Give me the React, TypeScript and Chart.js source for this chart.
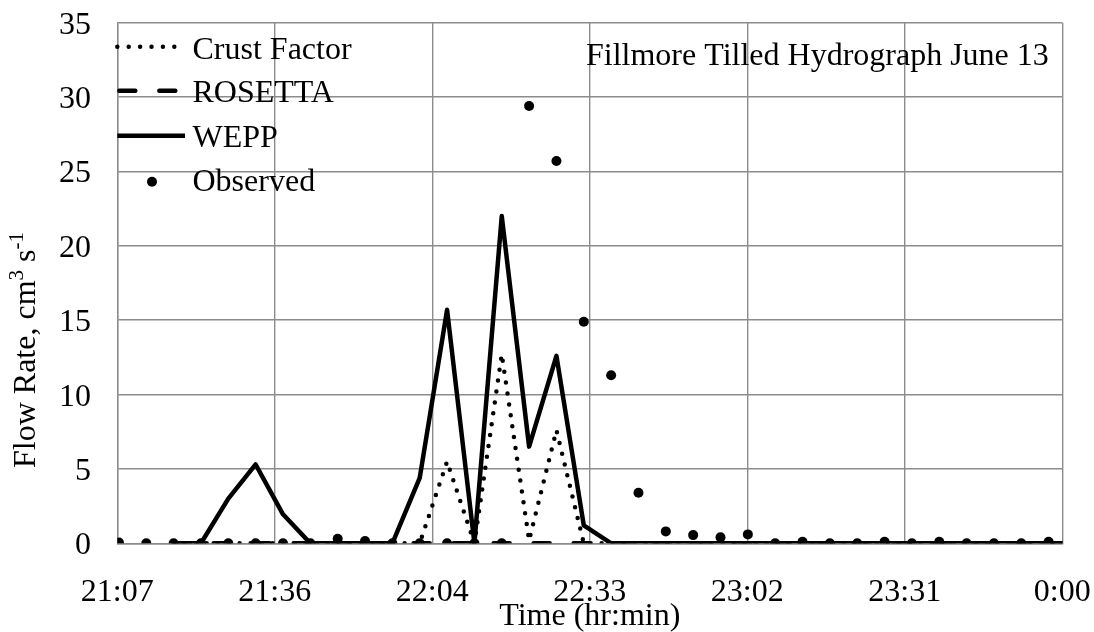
import React, { useEffect, useRef } from "react";
import { Chart, registerables } from "chart.js";

Chart.register(...registerables);

const FONT = "'Liberation Serif', 'Times New Roman', serif";
const GRID = "#8c8c8c";

// Sample times (hh:mm:ss); the last one runs past midnight
const sampleTimes = [
  "21:07:30", "21:12:30", "21:17:30", "21:22:30", "21:27:30", "21:32:30",
  "21:37:30", "21:42:30", "21:47:30", "21:52:30", "21:57:30", "22:02:30",
  "22:07:30", "22:12:30", "22:17:30", "22:22:30", "22:27:30", "22:32:30",
  "22:37:30", "22:42:30", "22:47:30", "22:52:30", "22:57:30", "23:02:30",
  "23:07:30", "23:12:30", "23:17:30", "23:22:30", "23:27:30", "23:32:30",
  "23:37:30", "23:42:30", "23:47:30", "23:52:30", "23:57:30", "00:02:30",
];

// Flow rate, cm3 s-1
const crustFactor = [
  null, null, 0, 0, 0, 0, 0, 0, 0, 0, 0, 0,
  5.5, 0, 12.7, 0.2, 7.6, 0, 0, 0, 0, 0, 0, 0,
  0, 0, 0, 0, 0, 0, 0, 0, 0, 0, 0, 0,
];
const rosetta = [
  null, null, 0, 0, 0, 0, 0, 0, 0, 0, 0, 0,
  0, 0, 0, 0, 0, 0, 0, 0, 0, 0, 0, 0,
  0, 0, 0, 0, 0, 0, 0, 0, 0, 0, 0, 0,
];
const wepp = [
  null, null, 0, 0, 3.0, 5.3, 1.95, 0, 0, 0, 0, 4.4,
  15.7, 0, 22.0, 6.5, 12.6, 1.2, 0, 0, 0, 0, 0, 0,
  0, 0, 0, 0, 0, 0, 0, 0, 0, 0, 0, 0,
];
const observed = [
  0.05, 0, 0, 0, 0, 0, 0, 0, 0.3, 0.15, 0, 0,
  0, 0, 0, 29.4, 25.7, 14.9, 11.3, 3.4, 0.8, 0.55, 0.4, 0.6,
  0, 0.1, 0, 0, 0.1, 0, 0.1, 0, 0, 0, 0.1, null,
];

const xTickLabels = ["21:07", "21:36", "22:04", "22:33", "23:02", "23:31", "0:00"];
const xTickMinutes = [1267.2, 1296, 1324.8, 1353.6, 1382.4, 1411.2, 1440];
const yTickValues = [0, 5, 10, 15, 20, 25, 30, 35];

const chartTitle = "Fillmore Tilled Hydrograph June 13";
const xTitle = "Time (hr:min)";

const LINE_W = 4.5;
const DOT_R = 5;

function toMinutes(t: string): number {
  const [h, m, s] = t.split(":").map(Number);
  const hh = h < 12 ? h + 24 : h;
  return hh * 60 + m + (s || 0) / 60;
}

function series(values: (number | null)[]) {
  return sampleTimes.map((t, i) => ({ x: toMinutes(t), y: values[i] }));
}

const textPlugin = {
  id: "hydroText",
  afterDraw(chart: any) {
    const { ctx, chartArea } = chart;
    const xs = chart.scales.x;
    const ys = chart.scales.y;
    ctx.save();
    ctx.fillStyle = "#000";
    ctx.font = `32px ${FONT}`;
    ctx.textBaseline = "alphabetic";

    // x tick labels
    ctx.textAlign = "center";
    xTickMinutes.forEach((v, i) => {
      ctx.fillText(xTickLabels[i], xs.getPixelForValue(v), chartArea.bottom + 57.7);
    });
    // y tick labels
    ctx.textAlign = "right";
    yTickValues.forEach((v) => {
      ctx.fillText(String(v), chartArea.left - 26.3, ys.getPixelForValue(v) + 11);
    });

    // x axis title
    ctx.textAlign = "center";
    ctx.fillText(xTitle, (chartArea.left + chartArea.right) / 2, 625);

    // chart title inside the plot
    ctx.textAlign = "left";
    ctx.fillText(chartTitle, 586, 65);

    // y axis title with superscripts
    ctx.save();
    ctx.translate(35, 468);
    ctx.rotate(-Math.PI / 2);
    const parts: [string, boolean][] = [
      ["Flow Rate, cm", false],
      ["3", true],
      [" s", false],
      ["-1", true],
    ];
    let px = 0;
    for (const [t, sup] of parts) {
      ctx.font = sup ? `21px ${FONT}` : `32px ${FONT}`;
      ctx.fillText(t, px, sup ? -12 : 0);
      px += ctx.measureText(t).width;
    }
    ctx.restore();

    // legend
    const lx = chartArea.left;
    const textX = 192.5;
    ctx.font = `32px ${FONT}`;
    ctx.textAlign = "left";
    ctx.strokeStyle = "#000";
    ctx.lineWidth = LINE_W;

    // Crust Factor: round dots
    ctx.save();
    ctx.lineCap = "round";
    ctx.setLineDash([0, 11.4]);
    ctx.beginPath();
    ctx.moveTo(lx, 46.7);
    ctx.lineTo(lx + 58, 46.7);
    ctx.stroke();
    ctx.restore();
    ctx.fillText("Crust Factor", textX, 58.5);

    // ROSETTA: long dashes
    ctx.save();
    ctx.lineCap = "round";
    ctx.setLineDash([16, 24]);
    ctx.beginPath();
    ctx.moveTo(lx + 2, 90.7);
    ctx.lineTo(lx + 60, 90.7);
    ctx.stroke();
    ctx.restore();
    ctx.fillText("ROSETTA", textX, 102);

    // WEPP: solid
    ctx.beginPath();
    ctx.moveTo(lx, 135.7);
    ctx.lineTo(185, 135.7);
    ctx.stroke();
    ctx.fillText("WEPP", textX, 146.5);

    // Observed: filled dot
    ctx.beginPath();
    ctx.arc(152, 181.7, DOT_R, 0, Math.PI * 2);
    ctx.fill();
    ctx.fillText("Observed", textX, 191);

    ctx.restore();
  },
};

export default function App() {
  const canvasRef = useRef<HTMLCanvasElement | null>(null);

  useEffect(() => {
    const canvas = canvasRef.current;
    if (!canvas) return;
    const chart = new Chart(canvas, {
      type: "line",
      data: {
        datasets: [
          {
            label: "Observed",
            data: series(observed),
            showLine: false,
            pointRadius: DOT_R,
            pointBackgroundColor: "#000",
            pointBorderWidth: 0,
            order: 0,
          },
          {
            label: "WEPP",
            data: series(wepp),
            borderColor: "#000",
            borderWidth: LINE_W,
            borderJoinStyle: "round",
            pointRadius: 0,
            order: 1,
          },
          {
            label: "Crust Factor",
            data: series(crustFactor),
            borderColor: "#000",
            borderWidth: LINE_W,
            borderDash: [0, 11],
            borderCapStyle: "round",
            borderJoinStyle: "round",
            pointRadius: 0,
            order: 2,
          },
          {
            label: "ROSETTA",
            data: series(rosetta),
            borderColor: "#000",
            borderWidth: LINE_W,
            borderDash: [16, 24],
            borderCapStyle: "round",
            pointRadius: 0,
            order: 3,
          },
        ],
      },
      options: {
        responsive: false,
        animation: false,
        devicePixelRatio: 1,
        layout: { padding: { left: 0, top: 22.7, right: 31.7, bottom: 0 } },
        plugins: {
          legend: { display: false },
          tooltip: { enabled: false },
          title: { display: false },
        },
        scales: {
          x: {
            type: "linear",
            min: 1267.2,
            max: 1440,
            afterBuildTicks: (s: any) => {
              s.ticks = xTickMinutes.map((v) => ({ value: v }));
            },
            afterFit: (s: any) => {
              s.height = 88.7;
              s.paddingLeft = 0;
              s.paddingRight = 0;
            },
            ticks: { display: false },
            grid: { color: GRID, lineWidth: 1.4, drawTicks: false },
            border: { color: GRID, width: 1.4 },
          },
          y: {
            type: "linear",
            min: 0,
            max: 35,
            afterBuildTicks: (s: any) => {
              s.ticks = yTickValues.map((v) => ({ value: v }));
            },
            afterFit: (s: any) => {
              s.width = 117.3;
              s.paddingTop = 0;
              s.paddingBottom = 0;
            },
            ticks: { display: false },
            grid: { color: GRID, lineWidth: 1.4, drawTicks: false },
            border: { color: GRID, width: 1.4 },
          },
        },
      },
      plugins: [textPlugin],
    } as any);
    return () => chart.destroy();
  }, []);

  return (
    <div style={{ position: "fixed", left: 0, top: 0, width: 1094, height: 632, background: "#fff" }}>
      <canvas ref={canvasRef} width={1094} height={632} style={{ width: 1094, height: 632, display: "block" }} />
    </div>
  );
}
